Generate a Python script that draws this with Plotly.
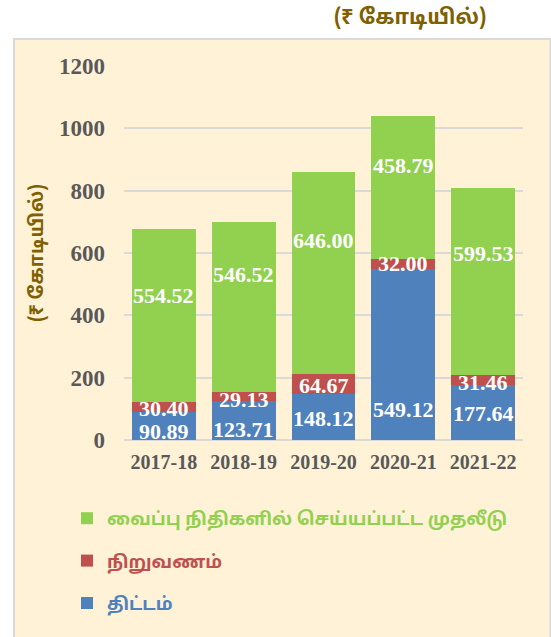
import plotly.graph_objects as go

categories = ["2017-18", "2018-19", "2019-20", "2020-21", "2021-22"]
scheme = [90.89, 123.71, 148.12, 549.12, 177.64]          # திட்டம்
establishment = [30.40, 29.13, 64.67, 32.00, 31.46]       # நிறுவணம்
deposits = [554.52, 546.52, 646.00, 458.79, 599.53]       # வைப்பு நிதிகளில் செய்யப்பட்ட முதலீடு
y_ticks = [0, 200, 400, 600, 800, 1000, 1200]

names = {
    "scheme": "திட்டம்",
    "est": "நிறுவணம்",
    "dep": "வைப்பு நிதிகளில் செய்யப்பட்ட முதலீடு",
}
unit_text = "(₹ கோடியில்)"

GREEN, RED, BLUE = "#92D050", "#C0504D", "#4F81BD"
BROWN = "#7F6000"
GRAY = "#595959"
CREAM = "#FFF2D7"
TAMIL = "Noto Sans Tamil, Lohit Tamil, Noto Sans, sans-serif"
SERIF = "Liberation Serif, Times New Roman, serif"

# label placement (fraction of segment height from its base) - style only
blue_frac = [0.29, 0.26, 0.47, 0.18, 0.48]
red_frac = [0.29, 0.17, 0.41, 0.5, 0.25]
green_frac = [0.62, 0.69, 0.66, 0.65, 0.65]

W, H = 551, 637
L, R, T, B = 124, 28, 66, 197
pw, ph = W - L - R, H - T - B

def px_x(p):
    return (p - L) / pw

def px_y(p):
    return (H - B - p) / ph

fig = go.Figure()
series = [
    (scheme, BLUE, names["scheme"], "g1", 3),
    (establishment, RED, names["est"], "g2", 2),
    (deposits, GREEN, names["dep"], "g3", 1),
]
for vals, col, nm, grp, rank in series:
    fig.add_trace(go.Bar(
        x=categories, y=vals, marker=dict(color=col, line=dict(width=0)),
        name=f'<span style="color:{col}"><b>{nm}</b></span>',
        legendgroup=grp, legendrank=rank, hoverinfo="skip",
    ))

annotations = []
lab_font = dict(family=SERIF, size=22, color="white")
for i, c in enumerate(categories):
    base = 0.0
    for vals, fr in [(scheme, blue_frac), (establishment, red_frac), (deposits, green_frac)]:
        v = vals[i]
        annotations.append(dict(
            x=c, y=base + fr[i] * v, xref="x", yref="y", text=f"<b>{v:.2f}</b>",
            showarrow=False, font=lab_font, xanchor="center", yanchor="middle",
        ))
        base += v

annotations.append(dict(
    x=px_x(488), y=px_y(19), xref="paper", yref="paper", text=f"<b>{unit_text}</b>",
    showarrow=False, xanchor="right", yanchor="middle",
    font=dict(family=TAMIL, size=21, color=BROWN),
))

fig.update_layout(
    width=W, height=H,
    margin=dict(l=L, r=R, t=T, b=B, autoexpand=False),
    paper_bgcolor="white",
    plot_bgcolor="rgba(0,0,0,0)",
    barmode="stack",
    bargap=0.2,
    showlegend=True,
    legend=dict(
        x=px_x(67), xanchor="left", y=px_y(500), yanchor="top",
        traceorder="grouped", tracegroupgap=16,
        font=dict(family=TAMIL, size=18),
        bgcolor="rgba(0,0,0,0)",
    ),
    shapes=[dict(
        type="rect", xref="paper", yref="paper",
        x0=px_x(14), x1=px_x(550.5), y0=px_y(39), y1=px_y(700),
        fillcolor=CREAM, line=dict(color="#D9D9D9", width=2), layer="below",
    )],
    annotations=annotations,
)

fig.update_yaxes(
    range=[0, 1200], tickvals=y_ticks, ticktext=[f"<b>{t}</b>" for t in y_ticks],
    showgrid=True, gridcolor="#D9D9D9", gridwidth=2,
    zeroline=True, zerolinecolor="#D9D9D9", zerolinewidth=2,
    showline=False, ticks="", ticklabelstandoff=18,
    tickfont=dict(family=SERIF, size=23, color=GRAY),
    title=dict(text=f"<b>{unit_text}</b>", standoff=10,
               font=dict(family=TAMIL, size=19, color=BROWN)),
)
fig.update_xaxes(
    showline=False, ticks="", ticklabelstandoff=8,
    ticktext=[f"<b>{c}</b>" for c in categories], tickvals=categories,
    tickfont=dict(family=SERIF, size=20, color=GRAY),
)

fig.write_html(
    "out.html",
    config={"displayModeBar": False},
    post_script="document.body.style.margin='0';document.body.style.padding='0';",
)
